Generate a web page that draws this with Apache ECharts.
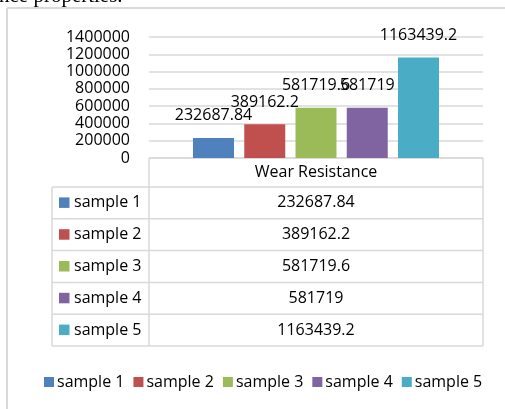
<!DOCTYPE html>
<html>
<head>
<meta charset="utf-8">
<style>
  html, body { margin: 0; padding: 0; background: #fff; }
  #chart { width: 505px; height: 409px; }
</style>
<script src="https://cdn.jsdelivr.net/npm/echarts@6/dist/echarts.min.js"></script>
</head>
<body>
<div id="chart"></div>
<script>
// Wear resistance of five samples
var category = ['Wear Resistance'];
var sampleNames = ['sample 1', 'sample 2', 'sample 3', 'sample 4', 'sample 5'];
var wearValues = [232687.84, 389162.2, 581719.6, 581719, 1163439.2];
var sampleColors = ['#4F81BD', '#C0504D', '#9BBB59', '#8064A2', '#4BACC6'];
var yTicks = [0, 200000, 400000, 600000, 800000, 1000000, 1200000, 1400000];

var FONT = '"Open Sans", sans-serif';
var LINE = '#D9D9D9';

var chart = echarts.init(document.getElementById('chart'), null, { renderer: 'canvas' });

// Plot area (also the data table's column geometry)
var gridLeft = 149, gridRight = 483, gridTop = 37, gridBottom = 158;
var labelColLeft = 52;
var headerBottom = 187;
var rowH = 31.8;

var series = sampleNames.map(function (name, i) {
  return {
    name: name,
    type: 'bar',
    data: [wearValues[i]],
    barWidth: 41,
    barGap: '25%',
    itemStyle: { color: sampleColors[i] },
    label: {
      show: true,
      position: 'top',
      distance: 14,
      color: '#000',
      fontSize: 16,
      fontFamily: FONT,
      formatter: function (p) { return String(p.value); }
    }
  };
});

// Data table below the plot
var graphics = [];
function hline(x1, x2, y) {
  graphics.push({ type: 'line', shape: { x1: x1, y1: y, x2: x2, y2: y }, style: { stroke: LINE, lineWidth: 1.5 }, silent: true });
}
function vline(x, y1, y2) {
  graphics.push({ type: 'line', shape: { x1: x, y1: y1, x2: x, y2: y2 }, style: { stroke: LINE, lineWidth: 1.5 }, silent: true });
}
var tableBottom = headerBottom + rowH * sampleNames.length;

// outer frame of the chart area
graphics.push({ type: 'line', shape: { x1: 7, y1: 8, x2: 505, y2: 8 }, style: { stroke: LINE, lineWidth: 2 }, silent: true });
graphics.push({ type: 'line', shape: { x1: 7, y1: 8, x2: 7, y2: 409 }, style: { stroke: LINE, lineWidth: 2 }, silent: true });

// caption text running above the chart
graphics.push({
  type: 'text', x: -1, y: 7, silent: true,
  style: { text: 'nce properties.', font: '21px "Liberation Serif", serif', fill: '#000', textAlign: 'left', textVerticalAlign: 'bottom' }
});

hline(gridLeft, gridRight, gridBottom);
vline(gridLeft, gridBottom, tableBottom);
vline(gridRight, gridBottom, tableBottom);
vline(labelColLeft, headerBottom, tableBottom);
hline(labelColLeft, gridRight, headerBottom);
graphics.push({
  type: 'text', silent: true,
  x: (gridLeft + gridRight) / 2, y: (gridBottom + headerBottom) / 2,
  style: { text: category[0], font: '16px ' + FONT, fill: '#000', textAlign: 'center', textVerticalAlign: 'middle' }
});
sampleNames.forEach(function (name, i) {
  var top = headerBottom + rowH * i;
  var mid = top + rowH / 2;
  hline(labelColLeft, gridRight, top + rowH);
  graphics.push({ type: 'rect', silent: true, shape: { x: 59, y: mid - 5.5, width: 10.5, height: 10.5 }, style: { fill: sampleColors[i] } });
  graphics.push({
    type: 'text', silent: true, x: 74, y: mid,
    style: { text: name, font: '16px ' + FONT, fill: '#000', textAlign: 'left', textVerticalAlign: 'middle' }
  });
  graphics.push({
    type: 'text', silent: true, x: (gridLeft + gridRight) / 2, y: mid,
    style: { text: String(wearValues[i]), font: '16px ' + FONT, fill: '#000', textAlign: 'center', textVerticalAlign: 'middle' }
  });
});

chart.setOption({
  animation: false,
  backgroundColor: '#fff',
  grid: { left: gridLeft, right: 505 - gridRight, top: gridTop, bottom: 409 - gridBottom, containLabel: false },
  xAxis: {
    type: 'category',
    data: category,
    axisLine: { show: false },
    axisTick: { show: false },
    axisLabel: { show: false }
  },
  yAxis: {
    type: 'value',
    min: yTicks[0],
    max: yTicks[yTicks.length - 1],
    interval: yTicks[1] - yTicks[0],
    axisLine: { show: false },
    axisTick: { show: false },
    axisLabel: {
      color: '#000', fontSize: 16, fontFamily: FONT, margin: 19,
      formatter: function (v) { return String(v); }
    },
    splitLine: { lineStyle: { color: LINE, width: 1.5 } }
  },
  legend: {
    data: sampleNames,
    left: 39,
    top: 369,
    icon: 'rect',
    itemWidth: 10,
    itemHeight: 10,
    itemGap: 9,
    textStyle: { color: '#000', fontSize: 16, fontFamily: FONT, padding: [0, 0, 0, -2] }
  },
  series: series,
  graphic: graphics
});
</script>
</body>
</html>
